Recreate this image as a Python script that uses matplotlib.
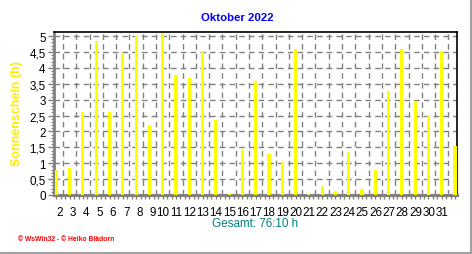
import matplotlib
matplotlib.use("Agg")
import matplotlib.pyplot as plt
import matplotlib.transforms as mtransforms
from matplotlib.lines import Line2D
import numpy as np

days = list(range(1, 32))
sunshine = [0.78, 0.84, 2.61, 4.85, 2.61, 4.44, 5.01, 2.20, 5.09, 3.78,
            3.68, 4.53, 2.36, 0.02, 1.43, 3.59, 1.28, 1.04, 4.60, 0.03,
            0.27, 0.12, 1.35, 0.18, 0.78, 3.27, 4.60, 2.93, 2.52, 4.54, 1.54]
tick_labels = [str(d) for d in range(2, 32)]
y_ticks = [0, 0.5, 1, 1.5, 2, 2.5, 3, 3.5, 4, 4.5, 5]
y_tick_labels = ["0", "0,5", "1", "1,5", "2", "2,5", "3", "3,5", "4", "4,5", "5"]
title = "Oktober 2022"
ylabel = "Sonnenschein (h)"
total_text = "Gesamt: 76:10 h"
footer = "\u00a9 WsWin32 - \u00a9 Heiko Blädorn"

plt.rcParams['font.family'] = ['Liberation Sans', 'DejaVu Sans']

W, H = 472, 255
fig = plt.figure(figsize=(W / 100, H / 100), dpi=100)
fig.patch.set_facecolor('white')
ax = fig.add_axes([54 / W, 1 - 196 / H, (457 - 54) / W, (196 - 33) / H])

ax.bar(days, sunshine, width=0.23, color='#ffff00', zorder=3)

ax.set_xlim(0.82, 31.15)
ax.set_ylim(0, 5.13)

major_x = [d - 0.5 for d in range(2, 32)]
ax.set_xticks(major_x)
ax.set_xticklabels(tick_labels, fontsize=8.4, ha='right')
offset = mtransforms.ScaledTranslation(1.6 / 100, 0, fig.dpi_scale_trans)
for lbl in ax.get_xticklabels():
    lbl.set_transform(lbl.get_transform() + offset)
ax.set_xticks(np.arange(1.0, 31.1, 1 / 3), minor=True)
ax.tick_params(axis='x', which='major', length=0, pad=8, colors='black')
ax.tick_params(axis='x', which='minor', length=3, width=1, color='#808080')

ax.set_yticks(y_ticks)
ax.set_yticklabels(y_tick_labels, fontsize=8.4)
ax.set_yticks(np.arange(0, 5.01, 0.1), minor=True)
ax.tick_params(axis='y', which='major', length=4, width=1, color='#808080', pad=2)
ax.tick_params(axis='y', which='minor', length=2, width=1, color='#808080')

ax.grid(True, which='major', color='#808080', linestyle=(0, (4, 3)), linewidth=1, zorder=1)
ax.set_axisbelow(True)

ax.spines['left'].set_color('#808080')
ax.spines['left'].set_linewidth(2)
ax.spines['bottom'].set_color('#808080')
ax.spines['bottom'].set_linewidth(2.2)
ax.spines['top'].set_color('black')
ax.spines['top'].set_linewidth(1.2)
ax.spines['right'].set_color('black')
ax.spines['right'].set_linewidth(1.2)

fig.text(237 / W, 1 - 18 / H, title, color='#0000ff', fontsize=8.2,
         fontweight='bold', ha='center', va='center')
fig.text(17 / W, 1 - 114 / H, ylabel, color='#ffee00', fontsize=9,
         fontweight='bold', rotation=90, ha='center', va='center')
fig.text(255 / W, 1 - 224 / H, total_text, color='#008080', fontsize=8.4,
         ha='center', va='center')
fig.text(18 / W, 1 - 240 / H, footer, color='#ff0000', fontsize=4.9,
         fontweight='bold', ha='left', va='center')

fig.add_artist(Line2D([470.5 / W, 470.5 / W], [0, 1], color='#a0a0a0', linewidth=1.5,
                      transform=fig.transFigure))
fig.add_artist(Line2D([0, 1], [1 - 254 / H, 1 - 254 / H], color='#a0a0a0', linewidth=1.5,
                      transform=fig.transFigure))

fig.savefig('out.png', dpi=100, facecolor='white')
